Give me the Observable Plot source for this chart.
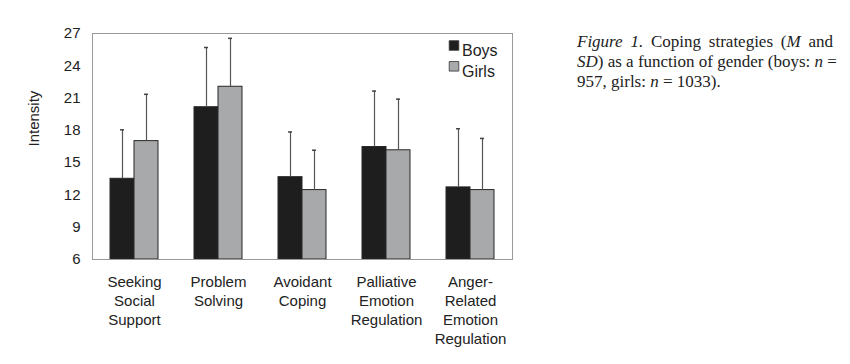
<!DOCTYPE html>
<html><head><meta charset="utf-8">
<script src="https://cdn.jsdelivr.net/npm/d3@7"></script>
<script src="https://cdn.jsdelivr.net/npm/@observablehq/plot@0.6"></script>
<style>
body{margin:0;background:#fff;}
#wrap{position:relative;width:850px;height:364px;overflow:hidden;}
#chart{position:absolute;left:0;top:0;}
#caption{position:absolute;left:577px;top:32px;width:256px;font-family:"Liberation Serif","Times New Roman",serif;font-size:17px;line-height:19.8px;color:#222;}
#caption .j{text-align:justify;text-align-last:justify;white-space:nowrap;}
#caption .l{text-align:left;white-space:nowrap;}
</style></head><body>
<div id="wrap"><div id="chart"></div><div id="caption"><div class="j"><i>Figure 1.</i> Coping strategies (<i>M</i> and</div><div class="j"><i>SD</i>) as a function of gender (boys: <i>n</i> =</div><div class="l">957, girls: <i>n</i> = 1033).</div></div></div>
<script>
const categories = ["Seeking\nSocial\nSupport","Problem\nSolving","Avoidant\nCoping","Palliative\nEmotion\nRegulation","Anger-\nRelated\nEmotion\nRegulation"];
const genders = ["Boys","Girls"];
const boysMean = [13.5,20.15,13.65,16.45,12.7];
const boysSD = [4.55,5.55,4.2,5.2,5.45];
const girlsMean = [17.0,22.05,12.45,16.15,12.45];
const girlsSD = [4.35,4.5,3.7,4.75,4.8];
const yTicks = [6,9,12,15,18,21,24,27];
const colors = ["#1e1e1e","#a8a9ab"];

const rows = [];
categories.forEach((c,i)=>{
  rows.push({cat:c, g:"Boys", m:boysMean[i], sd:boysSD[i]});
  rows.push({cat:c, g:"Girls", m:girlsMean[i], sd:girlsSD[i]});
});
const last = categories[categories.length-1];
const first = categories[0];

const legendMarks = genders.flatMap((g,i)=>[
  Plot.dot([g], {fx: ()=>last, frameAnchor:"top-left", dx:25.5, dy:12+i*20.8, symbol:"square", r:5.4, fill:colors[i], stroke:"#333", strokeWidth:0.8}),
  Plot.text([g], {fx: ()=>last, frameAnchor:"top-left", dx:33.5, dy:11.5+i*20.8, text:d=>d, textAnchor:"start", fontSize:16, fill:"#222"})
]);

const chart = Plot.plot({
  width: 540, height: 364,
  marginLeft: 90, marginRight: 26, marginTop: 33, marginBottom: 105,
  style: {fontFamily: "'Liberation Sans', Arial, sans-serif", fontSize: "15px", color:"#222", background:"#fff"},
  fx: {domain: categories, padding: 0, axis: null},
  x: {domain: genders, paddingInner: 0, paddingOuter: 0.73, axis: null},
  y: {domain: [6,27], ticks: yTicks},
  color: {domain: genders, range: colors},
  marks: [
    Plot.barY(rows, {fx:"cat", x:"g", y1:6, y2:"m", fill:"g", stroke:"#262626", strokeWidth:1}),
    Plot.ruleX(rows, {fx:"cat", x:"g", y1:"m", y2:d=>d.m+d.sd, stroke:"#555", strokeWidth:1.2}),
    Plot.tickY(rows, {fx:"cat", x:"g", y:d=>d.m+d.sd, stroke:"#444", strokeWidth:1.5, insetLeft:10, insetRight:10}),
    Plot.ruleY([6,27], {stroke:"#9a9a9a", strokeWidth:1}),
    Plot.frame({anchor:"left", facetAnchor:"left", stroke:"#9a9a9a"}),
    Plot.frame({anchor:"right", facetAnchor:"right", stroke:"#9a9a9a"}),
    Plot.axisY({ticks: yTicks, tickSize:0, tickPadding:12, label:null, fontSize:15, fill:"#222"}),
    Plot.text(["Intensity"], {fx: ()=>first, frameAnchor:"left", dx:-58, rotate:-90, text:d=>d, fontSize:15, fill:"#222"}),
    Plot.text(categories, {fx: d=>d, text: d=>d, frameAnchor:"bottom", lineAnchor:"top", dy:13.5, lineHeight:1.27, fontSize:15, fill:"#222"}),
    ...legendMarks
  ]
});
document.getElementById("chart").appendChild(chart);
</script>
</body></html>
